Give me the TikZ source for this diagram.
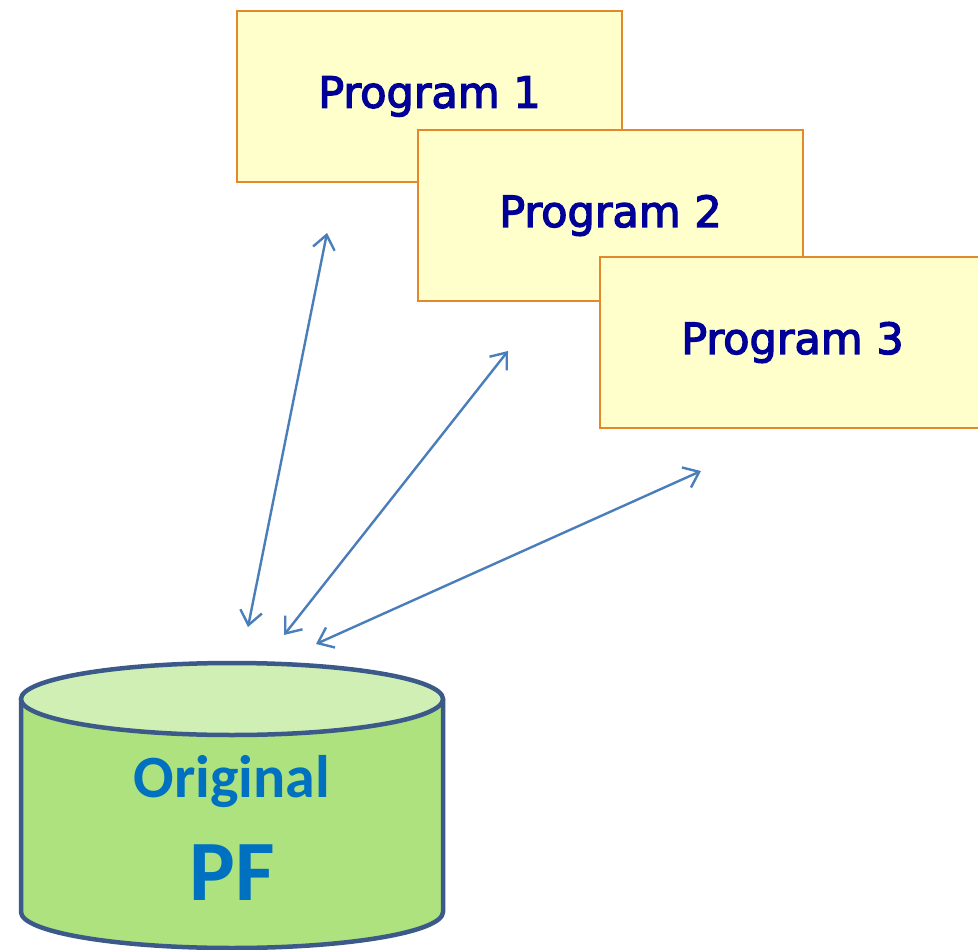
\documentclass[tikz,border=0pt]{standalone}
\usepackage{fontspec}
\usetikzlibrary{arrows.meta}
\newfontfamily\progfont[FakeBold=3]{DejaVu Sans}
\newfontfamily\pffont[BoldFont={Carlito Bold}]{Carlito}
\definecolor{boxfill}{HTML}{FFFFCC}
\definecolor{boxline}{HTML}{E3892B}
\definecolor{progtext}{HTML}{000099}
\definecolor{arrowcol}{HTML}{4A7EBB}
\definecolor{cylbody}{HTML}{ADE27E}
\definecolor{cyltop}{HTML}{CFEFB4}
\definecolor{cylline}{HTML}{3B5A8A}
\definecolor{pftext}{HTML}{0070C0}
\tikzset{
  progbox/.style={draw=boxline, fill=boxfill, line width=1.8pt, minimum width=385pt, minimum height=171pt, inner sep=0pt, text=progtext, font=\progfont\fontsize{43}{50}\selectfont},
  link/.style={draw=arrowcol, line width=2.4pt, {Straight Barb[length=14pt,width=22pt]}-{Straight Barb[length=14pt,width=22pt]}},
  cylstroke/.style={draw=cylline, line width=4.5pt}
}
\begin{document}
\begin{tikzpicture}[x=1pt,y=-1pt]
\useasboundingbox (0,0) rectangle (978,950);
\clip (0,0) rectangle (978,950);
\node[progbox] (p1) at (429.5,96.5) {Program 1};
\node[progbox] (p2) at (610.5,215.5) {Program 2};
\node[progbox] (p3) at (792.5,342.5) {Program 3};
% cylinder
\fill[cylbody] (21,699) -- (21,912) arc[start angle=180,end angle=360,x radius=211pt,y radius=36pt] -- (443,699) -- cycle;
\draw[cylstroke] (21,699) -- (21,912) arc[start angle=180,end angle=360,x radius=211pt,y radius=36pt] -- (443,699);
\draw[cylstroke, fill=cyltop] (232,699) ellipse [x radius=211pt, y radius=36pt];
\node[text=pftext, font=\pffont\bfseries\fontsize{60}{70}\selectfont] (orig) at (232,782) {Original};
\node[text=pftext, font=\pffont\bfseries\fontsize{86}{96}\selectfont] (pf) at (232,873) {PF};
% arrow ends
\coordinate (a1s) at (248,627);
\coordinate (a1e) at (327,233);
\coordinate (a2s) at (284,635);
\coordinate (a2e) at (508,351);
\coordinate (a3s) at (316,644);
\coordinate (a3e) at (701,471);
\draw[link] (a1s) -- (a1e);
\draw[link] (a2s) -- (a2e);
\draw[link] (a3s) -- (a3e);
\end{tikzpicture}
\end{document}
